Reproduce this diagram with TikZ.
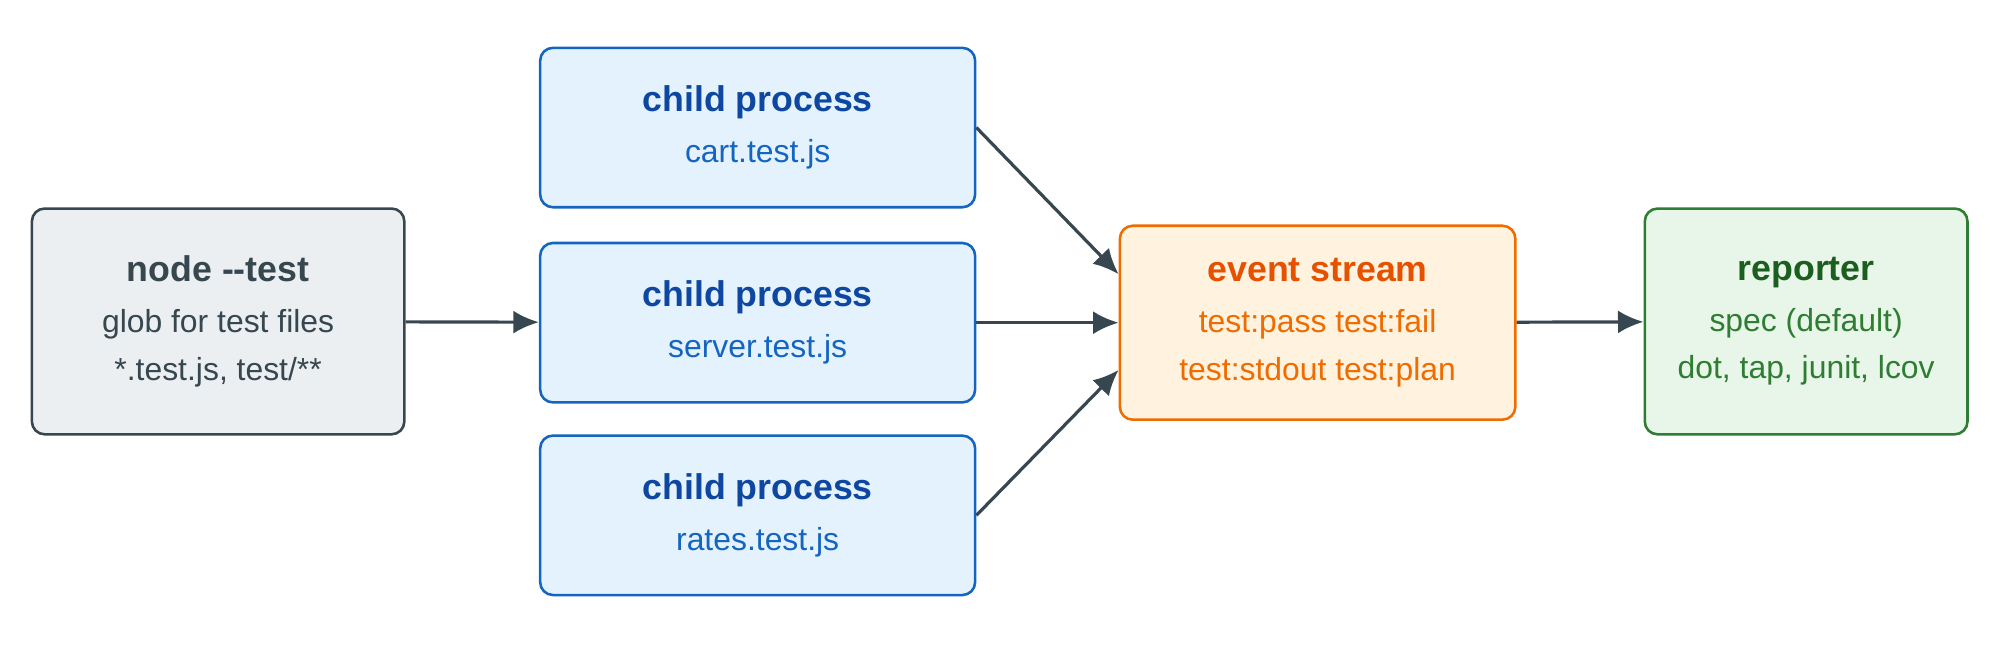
\documentclass[tikz,border=0pt]{standalone}
\usepackage{fontspec}
\setmainfont{Liberation Sans}
\usetikzlibrary{arrows.meta}
\definecolor{grayfill}{HTML}{ECEFF1}
\definecolor{grayline}{HTML}{37474F}
\definecolor{bluefill}{HTML}{E3F2FD}
\definecolor{blueline}{HTML}{1565C0}
\definecolor{bluetitle}{HTML}{0D47A1}
\definecolor{orangefill}{HTML}{FFF3E0}
\definecolor{orangeline}{HTML}{EF6C00}
\definecolor{orangetitle}{HTML}{E65100}
\definecolor{greenfill}{HTML}{E8F5E9}
\definecolor{greenline}{HTML}{2E7D32}
\definecolor{greentitle}{HTML}{1B5E20}
\tikzset{
  box/.style={draw, line width=2pt, rounded corners=10pt, align=center, inner sep=0pt,
    font=\fontsize{25}{37}\selectfont},
  arr/.style={draw, line width=2.5pt, grayline, -{Latex[length=20pt,width=18pt]}},
}
\newcommand{\ttl}[1]{{\fontsize{28}{37}\selectfont\bfseries #1}\\[3pt]}
\begin{document}
\begin{tikzpicture}[x=1pt,y=-1pt]
\path[use as bounding box] (0,0) rectangle (1568,505);

\node[box, draw=grayline, fill=grayfill, minimum width=292pt, minimum height=177pt, text=grayline] (runner) at (171,252)
  {\ttl{node {-}{-}test}glob for test files\\ *.test.js, test/**};
\node[box, draw=blueline, fill=bluefill, minimum width=341pt, minimum height=125pt, text=blueline] (cart) at (594,100)
  {\ttl{\color{bluetitle}child process}cart.test.js};
\node[box, draw=blueline, fill=bluefill, minimum width=341pt, minimum height=125pt, text=blueline] (server) at (594,253)
  {\ttl{\color{bluetitle}child process}server.test.js};
\node[box, draw=blueline, fill=bluefill, minimum width=341pt, minimum height=125pt, text=blueline] (rates) at (594,404)
  {\ttl{\color{bluetitle}child process}rates.test.js};
\node[box, draw=orangeline, fill=orangefill, minimum width=310pt, minimum height=152pt, text=orangeline] (events) at (1033,253)
  {\ttl{\color{orangetitle}event stream}test:pass test:fail\\ test:stdout test:plan};
\node[box, draw=greenline, fill=greenfill, minimum width=253pt, minimum height=177pt, text=greenline] (reporter) at (1416,252)
  {\ttl{\color{greentitle}reporter}spec (default)\\ dot, tap, junit, lcov};

\path[arr] (runner) -- (server);
\path[arr] (cart.east) -- (events.west |- 0,215);
\path[arr] (server) -- (events);
\path[arr] (rates.east) -- (events.west |- 0,290);
\path[arr] (events) -- (reporter);
\end{tikzpicture}
\end{document}
